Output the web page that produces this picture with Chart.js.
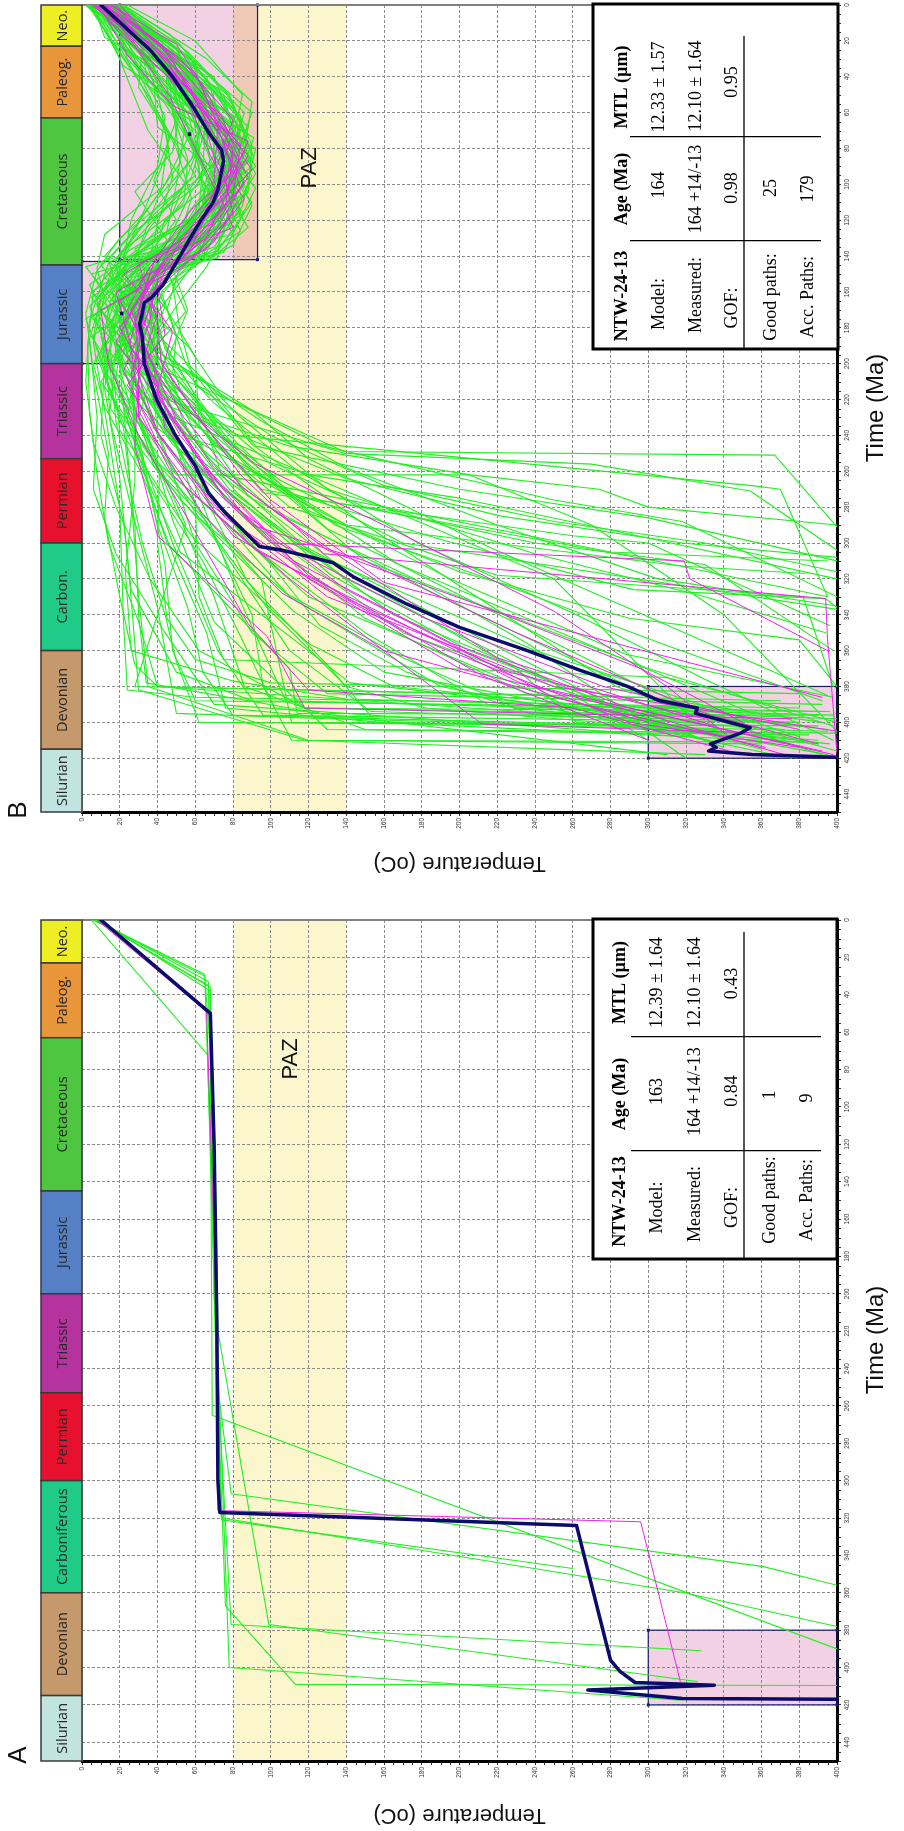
<!DOCTYPE html>
<html>
<head>
<meta charset="utf-8">
<title>NTW-24-13 thermal history models</title>
<script src="https://cdn.jsdelivr.net/npm/chart.js@4.4.1/dist/chart.umd.min.js"></script>
<style>
html,body{margin:0;padding:0;background:#ffffff;}
#page{position:relative;width:904px;height:1831px;overflow:hidden;background:#fff;}
#page canvas{position:absolute;left:0;display:block;}
</style>
</head>
<body>
<div id="page">
<canvas id="panelB" width="904" height="905" style="top:0px;width:904px;height:905px"></canvas>
<canvas id="panelA" width="904" height="926" style="top:905px;width:904px;height:926px"></canvas>
</div>
<script>
// ---------------- DATA ----------------
const tempTicks = [0,20,40,60,80,100,120,140,160,180,200,220,240,260,280,300,320,340,360,380,400];
const timeTicks = [0,20,40,60,80,100,120,140,160,180,200,220,240,260,280,300,320,340,360,380,400,420,440];

const periodNamesA = ["Neo.","Paleog.","Cretaceous","Jurassic","Triassic","Permian","Carboniferous","Devonian","Silurian"];
const periodNamesB = ["Neo.","Paleog.","Cretaceous","Jurassic","Triassic","Permian","Carbon.","Devonian","Silurian"];
const periodStarts = [0,23,63,145,200,253,300,360,415];
const periodEnds   = [23,63,145,200,253,300,360,415,450];
const periodColors = ["#EEEE24","#E9953A","#4FC63F","#5680C6","#B4339F","#E8112D","#1FCB87","#C5996C","#C2E4E1"];

const pazRange = [80,140];

// constraint boxes: [timeMin, timeMax, tempMin, tempMax]
const boxesA = [[380,420,300,400]];
const boxesB = [[0,142,20,93],[143,200,0,40],[380,420,300,400]];
// small markers [time, temp]
const markersB = [[72,57],[172,21]];

// table texts
const tableLabels = ["NTW-24-13","Model:","Measured:","GOF:","Good paths:","Acc. Paths:"];
const tableAgeA = ["Age (Ma)","163","164 +14/-13","0.84","1","9"];
const tableMtlA = ["MTL (\u00b5m)","12.39 \u00b1 1.64","12.10 \u00b1 1.64","0.43"];
const tableAgeB = ["Age (Ma)","164","164 +14/-13","0.98","25","179"];
const tableMtlB = ["MTL (\u00b5m)","12.33 \u00b1 1.57","12.10 \u00b1 1.64","0.95"];

// paths, flat lists of [time (Ma), temperature (C)] pairs
const bestA = [0,10, 50,68, 120,70, 220,71.5, 300,72, 317,73, 324,262, 344,267, 376,275, 396,280, 402,285, 408,293, 409.5,335, 412,268, 416.5,318, 417,400];
const goodA = [
  [0,8, 49,66, 200,71, 316,72, 322,296, 407.5,317]
];
const accA = [
  [0,6, 30,65, 70,68, 265,69, 390,400],
  [0,7, 35,67, 150,70, 250,72, 307,79, 346,361, 356,400],
  [0,9, 38,68, 200,70, 320,74, 360,319, 378,400],
  [0,5, 72,66.5, 200,70, 367,76, 409,113, 409.6,400],
  [0,8, 33,67, 250,72, 377,79, 391,328],
  [0,7, 36,68, 150,71, 220,72, 377,99, 407.5,326],
  [0,6, 29,65, 180,70, 400,78, 417.5,317],
  [0,11, 50,68, 300,72, 321,74, 347,260]
];

const bestB = [0,10, 25,36, 40,48, 57,59, 71,67, 81,74, 87,75, 103,72, 110,69.5, 120,63, 138,53, 156,43, 163,37, 166,33, 174,31.5, 178,30.5, 185,32, 200,33, 220,39.5, 239,49, 257,60, 272,67, 282,75, 302,94, 304,106, 308,122, 311,133, 319,144, 334,172, 347,200, 360,236, 371,264, 380,289, 388,306, 392,326, 395,325, 403,354, 406,349, 412,333, 414,336, 416,332, 418,355, 419.5,400];
const goodB = [
  [0,12, 20,40, 50,60, 80,80, 100,76, 128,60, 145,50, 172,28, 198,30, 240,52, 290,90, 310,150, 350,230, 395,330, 412,390],
  [0,8, 30,38, 60,70, 82,86, 108,70, 135,58, 160,38, 176,36, 200,28, 238,40, 280,70, 330,130, 380,250, 405,400],
  [0,15, 22,50, 52,68, 78,78, 96,88, 120,72, 140,55, 165,20, 185,32, 220,38, 260,60, 300,100, 310,319, 320,322, 360,395],
  [0,10, 26,32, 62,66, 86,82, 112,66, 138,48, 150,40, 180,20, 198,30, 230,30, 275,62, 320,110, 376,180, 401,212, 406,360],
  [0,5, 18,28, 44,54, 74,74, 102,84, 126,64, 142,44, 168,30, 196,40, 224,58, 262,84, 306,128, 331,394, 354,395, 417,400],
  [0,18, 36,50, 70,80, 90,74, 116,80, 140,60, 158,40, 184,44, 212,24, 248,46, 296,80, 352,175, 400,290, 414,380],
  [0,7, 24,36, 48,52, 70,76, 92,90, 122,62, 144,38, 162,32, 190,25, 218,46, 256,92, 290,160, 338,250, 380,310, 410,345],
  [0,12, 32,46, 58,58, 84,68, 110,82, 132,70, 146,52, 170,10, 200,14, 240,30, 290,58, 345,88, 382,120, 392,260, 418,350],
  [0,20, 16,34, 42,62, 68,72, 94,80, 114,58, 140,40, 156,30, 182,48, 214,40, 258,70, 310,140, 364,220, 402,335],
  [0,9, 28,24, 56,48, 76,88, 104,76, 128,58, 150,22, 172,40, 206,30, 246,28, 296,40, 352,98, 392,118, 398,376],
  [0,16, 38,60, 66,72, 98,70, 124,80, 139,46, 164,30, 188,18, 224,44, 270,72, 318,120, 374,212, 410,300],
  [0,6, 20,26, 50,46, 80,60, 106,72, 134,54, 144,30, 176,40, 200,42, 234,64, 276,100, 322,160, 358,290, 386,392],
  [0,11, 24,44, 56,62, 90,76, 118,64, 146,36, 170,24, 196,36, 232,50, 276,76, 326,140, 386,250, 414,362],
  [0,14, 30,52, 64,80, 88,72, 108,86, 136,66, 148,44, 174,34, 204,22, 244,40, 284,64, 328,106, 360,160, 400,300],
  [0,9, 20,30, 48,58, 84,80, 112,76, 138,56, 160,18, 190,26, 226,30, 262,48, 304,92, 344,168, 378,232, 418,398],
  [0,10, 28,44, 54,62, 78,84, 106,80, 130,60, 146,46, 170,30, 194,32, 228,46, 266,72, 310,112, 356,196, 392,290, 416,392],
  [0,13, 22,36, 46,56, 72,70, 98,86, 124,72, 142,52, 166,34, 188,30, 216,40, 254,62, 300,104, 342,182, 380,276, 404,380],
  [0,7, 18,22, 44,50, 70,66, 100,74, 126,52, 144,42, 170,26, 198,36, 230,54, 268,84, 304,130, 336,214, 370,296, 400,350],
  [0,17, 30,48, 62,74, 88,84, 116,72, 138,62, 150,36, 178,28, 202,38, 236,44, 274,76, 320,120, 370,200, 396,300, 418,372],
  [0,11, 26,40, 58,64, 84,88, 108,74, 136,50, 154,40, 182,32, 206,26, 242,42, 286,76, 332,142, 372,226, 398,330]
];
const accB = [
  [0,10, 15,28, 40,55, 72,88, 100,72, 128,52, 150,30, 172,12, 205,22, 245,48, 300,110, 360,240, 408,380],
  [0,15, 25,48, 55,80, 85,91, 110,62, 140,44, 160,38, 185,5, 220,28, 270,75, 340,165, 400,300, 418,395],
  [0,5, 20,22, 60,40, 95,60, 125,30, 142,18, 165,25, 195,40, 230,30, 290,55, 380,28, 388,370],
  [0,20, 30,58, 65,68, 80,92, 112,85, 135,70, 148,35, 180,30, 210,10, 255,40, 330,120, 392,260, 412,340],
  [0,8, 35,40, 50,75, 90,85, 118,58, 142,65, 158,20, 190,22, 240,70, 310,150, 370,300, 402,398],
  [0,3, 12,30, 45,35, 70,72, 105,88, 130,40, 152,12, 175,40, 200,35, 249,139, 251,367, 291,400],
  [0,12, 28,45, 58,60, 88,80, 102,92, 138,75, 145,40, 170,35, 198,15, 235,25, 300,45, 370,110, 395,114, 396,390],
  [0,18, 22,52, 48,70, 78,66, 95,90, 125,78, 143,25, 168,8, 192,30, 228,55, 270,95, 310,304, 330,395],
  [0,6, 18,12, 40,48, 75,58, 110,80, 140,60, 155,28, 185,10, 215,20, 262,50, 262,205, 290,270, 340,340, 405,400],
  [0,22, 40,62, 68,88, 92,76, 120,68, 141,30, 162,42, 195,28, 240,45, 285,85, 350,170, 410,330],
  [0,9, 30,30, 62,65, 85,74, 115,42, 135,25, 160,15, 180,38, 222,52, 265,105, 300,170, 337,400],
  [0,14, 20,38, 52,52, 80,84, 108,70, 132,62, 150,5, 178,22, 205,40, 240,80, 268,355, 270,370, 330,395],
  [0,4, 25,18, 70,35, 100,55, 130,20, 145,10, 170,30, 200,20, 260,25, 330,30, 380,35, 410,120, 412,360],
  [0,16, 33,55, 60,82, 98,66, 116,86, 140,48, 155,38, 175,2, 210,15, 250,35, 320,95, 400,111, 402,390],
  [0,11, 16,36, 44,62, 70,80, 90,92, 118,65, 145,52, 170,45, 200,55, 245,90, 290,150, 380,283, 418,392],
  [0,7, 38,28, 55,44, 82,60, 112,66, 138,38, 160,5, 188,35, 230,45, 278,60, 330,62, 365,75, 375,310, 400,400],
  [0,19, 26,40, 65,75, 92,84, 128,74, 142,56, 168,28, 190,18, 225,15, 260,40, 300,72, 360,110, 394,153, 398,300],
  [0,2, 10,15, 35,50, 64,55, 100,50, 126,45, 150,18, 180,45, 202,20, 250,32, 312,44, 360,48, 388,60, 392,330],
  [0,13, 42,50, 76,78, 104,58, 135,44, 149,22, 176,14, 200,50, 232,95, 258,140, 290,220, 320,305, 335,399],
  [0,24, 20,60, 50,85, 86,78, 121,80, 141,42, 171,55, 198,33, 245,70, 280,110, 318,220, 330,382, 380,398],
  [0,10, 28,42, 56,56, 96,72, 124,88, 140,70, 160,22, 182,30, 212,35, 270,78, 320,140, 375,245, 410,300],
  [0,6, 14,20, 30,24, 56,48, 88,52, 112,36, 140,12, 164,32, 196,8, 236,22, 290,28, 340,30, 378,34, 392,110, 394,395],
  [0,17, 24,44, 48,50, 74,91, 100,82, 131,66, 144,46, 166,25, 204,42, 258,88, 312,168, 355,265, 395,355],
  [0,12, 36,48, 60,60, 78,88, 106,78, 133,35, 158,12, 178,38, 218,60, 262,74, 305,280, 310,395],
  [0,8, 20,26, 46,45, 66,70, 92,70, 120,58, 143,44, 162,20, 193,15, 237,20, 296,58, 356,120, 380,165, 402,380],
  [0,21, 18,34, 40,70, 68,80, 96,62, 114,74, 141,58, 155,40, 190,35, 226,90, 253,120, 302,215, 385,395],
  [0,3, 22,32, 46,30, 72,46, 102,42, 128,12, 147,8, 180,16, 214,12, 264,20, 318,25, 382,30, 410,118, 418,330],
  [0,15, 32,60, 70,66, 94,88, 126,60, 142,35, 163,5, 192,25, 228,42, 268,60, 335,85, 388,108, 396,398],
  [0,9, 26,45, 52,68, 84,70, 110,90, 137,72, 151,30, 187,20, 210,65, 246,92, 270,200, 286,300, 310,400],
  [0,18, 24,36, 54,64, 90,68, 120,74, 139,28, 161,10, 186,6, 224,18, 276,52, 338,112, 372,160, 408,345],
  [0,5, 34,22, 58,58, 80,62, 104,46, 140,20, 146,2, 170,20, 200,25, 248,44, 300,60, 350,90, 384,130, 390,392],
  [0,13, 18,42, 44,46, 76,72, 99,78, 128,50, 148,28, 170,45, 196,60, 234,62, 274,88, 330,190, 390,310, 416,400],
  [0,20, 28,54, 62,84, 86,88, 108,64, 143,62, 150,18, 182,26, 206,12, 255,30, 305,52, 378,142, 400,330],
  [0,7, 16,18, 42,38, 68,40, 96,76, 116,62, 142,44, 168,35, 198,40, 242,58, 260,115, 320,250, 395,320],
  [0,11, 36,58, 66,62, 90,60, 128,80, 141,22, 174,28, 202,48, 241,75, 292,130, 350,240, 382,300, 412,372],
  [0,16, 21,30, 50,78, 84,90, 112,70, 136,28, 156,36, 184,12, 232,15, 280,26, 336,40, 395,50, 398,130, 405,395],
  [0,4, 30,36, 64,50, 98,38, 120,50, 143,32, 165,15, 194,10, 236,34, 287,48, 344,70, 404,130, 407,385],
  [0,22, 16,46, 38,66, 60,90, 84,82, 118,80, 139,52, 158,32, 189,44, 214,52, 266,96, 320,195, 362,288, 386,398],
  [0,10, 24,32, 44,40, 66,52, 98,70, 130,70, 144,50, 174,5, 203,30, 253,80, 290,140, 313,319, 317,383],
  [0,14, 32,44, 56,46, 80,80, 106,84, 134,46, 153,24, 179,32, 217,26, 257,38, 288,66, 340,90, 380,96, 410,111, 411,380],
  [0,12, 20,40, 48,62, 88,78, 116,84, 142,40, 160,30, 196,18, 226,40, 262,120, 275,200, 295,290, 320,400],
  [0,17, 40,66, 72,76, 104,80, 138,66, 148,36, 178,42, 200,30, 238,52, 272,110, 298,190, 326,292, 331,394, 336,400],
  [0,8, 18,34, 38,44, 62,80, 90,90, 122,55, 145,18, 166,22, 196,26, 228,28, 262,41, 300,40, 342,45, 365,60, 378,100, 384,380],
  [0,19, 30,50, 64,72, 100,86, 130,58, 141,34, 163,16, 188,24, 221,47, 250,139, 256,270, 271,354, 304,400],
  [0,6, 20,16, 36,38, 58,52, 82,48, 104,28, 131,45, 146,40, 170,28, 194,20, 222,28, 266,28, 316,23, 360,26, 377,80, 387,140, 392,340],
  [0,9, 24,38, 50,64, 76,70, 100,86, 124,68, 146,42, 166,26, 194,34, 230,50, 272,82, 318,132, 360,205, 398,300, 415,360],
  [0,13, 14,24, 40,60, 62,74, 86,80, 116,56, 142,50, 160,16, 186,28, 216,32, 254,58, 296,96, 342,150, 384,236, 404,395],
  [0,11, 30,34, 58,72, 94,92, 122,76, 144,30, 170,18, 200,10, 244,36, 286,62, 328,108, 364,170, 392,230, 398,400],
  [0,7, 26,40, 54,50, 88,64, 114,62, 140,52, 154,34, 184,28, 208,46, 252,66, 302,118, 346,198, 388,276, 420,320],
  [0,16, 28,46, 46,56, 70,84, 104,74, 126,84, 143,60, 166,44, 194,24, 236,38, 282,74, 312,100, 346,126, 372,172, 396,240, 400,380],
  [0,14, 22,42, 52,70, 80,76, 110,78, 140,56, 156,30, 190,12, 218,34, 250,52, 300,88, 350,150, 390,215, 412,396],
  [0,6, 16,26, 38,52, 66,66, 96,58, 124,36, 145,26, 172,8, 200,26, 240,28, 300,48, 360,72, 396,96, 400,370],
  [0,18, 34,62, 60,86, 82,80, 104,68, 128,70, 144,55, 168,38, 192,44, 222,70, 258,112, 300,178, 340,262, 376,330, 410,398],
  [0,10, 20,30, 50,40, 72,62, 100,62, 126,28, 142,14, 164,20, 190,30, 220,26, 272,46, 330,70, 380,86, 404,150, 406,400],
  [0,21, 26,56, 48,76, 78,90, 104,88, 130,62, 147,48, 170,56, 196,46, 226,66, 256,100, 280,150, 300,240, 312,330, 360,398],
  [0,4, 18,14, 42,30, 70,44, 96,48, 122,40, 141,36, 162,12, 188,6, 226,12, 280,20, 344,22, 382,24, 386,60, 392,380],
  [0,15, 28,38, 54,54, 82,76, 112,90, 134,80, 145,60, 162,34, 186,40, 210,38, 248,64, 284,104, 320,176, 356,236, 392,286, 414,340],
  [0,8, 24,28, 44,60, 74,80, 98,70, 120,44, 144,36, 176,16, 206,22, 240,56, 276,66, 322,88, 368,130, 400,156, 404,340],
  [0,12, 30,52, 56,64, 88,86, 116,70, 142,64, 156,48, 182,52, 212,60, 240,100, 268,160, 288,250, 300,330, 316,400],
  [0,19, 22,48, 46,64, 70,66, 94,80, 120,84, 139,70, 150,38, 176,22, 208,18, 246,30, 290,40, 336,56, 372,64, 396,80, 402,310],
  [0,7, 34,46, 60,48, 86,56, 110,54, 136,30, 156,4, 178,14, 204,36, 236,40, 280,96, 320,145, 370,230, 400,262, 412,390],
  [0,17, 20,30, 40,46, 64,84, 92,78, 118,60, 140,62, 160,42, 184,50, 206,48, 244,82, 282,120, 316,200, 342,290, 354,380, 380,400],
  [0,3, 26,20, 52,36, 80,50, 108,58, 134,50, 146,24, 168,4, 194,14, 232,18, 262,24, 300,32, 340,44, 366,50, 400,62, 402,358],
  [0,13, 24,50, 58,66, 90,64, 114,74, 141,72, 152,26, 180,36, 200,56, 230,84, 270,130, 306,240, 330,330, 350,394],
  [0,22, 30,66, 54,90, 82,86, 108,80, 130,74, 146,66, 168,50, 190,36, 216,56, 252,86, 290,134, 318,210, 358,312, 388,392],
  [0,9, 14,18, 36,44, 58,66, 86,58, 108,40, 142,28, 160,34, 186,16, 214,30, 250,44, 296,70, 336,98, 380,140, 392,182, 410,390],
  [0,11, 28,36, 46,68, 66,82, 92,86, 118,70, 144,40, 170,30, 200,28, 232,24, 264,36, 310,64, 352,84, 392,102, 418,310],
  [0,16, 38,52, 70,62, 100,80, 128,66, 140,44, 160,26, 184,40, 210,44, 246,74, 272,96, 296,260, 300,300, 346,396],
  [0,5, 22,36, 44,48, 68,54, 96,66, 124,62, 144,42, 168,18, 196,24, 238,46, 282,70, 330,110, 380,190, 396,266, 420,376],
  [0,20, 24,40, 50,72, 76,84, 106,66, 132,58, 146,30, 172,22, 200,6, 224,12, 262,32, 306,48, 350,66, 392,76, 400,158, 410,360],
  [0,12, 20,34, 48,54, 82,74, 112,64, 140,46, 160,36, 190,30, 224,46, 246,110, 262,206, 270,274, 280,300, 290,400],
  [0,8, 30,48, 62,72, 94,74, 126,56, 144,34, 168,44, 196,34, 230,60, 264,140, 285,222, 300,318, 308,400],
  [0,14, 18,22, 42,44, 64,58, 92,84, 120,58, 142,46, 164,28, 190,56, 218,74, 246,128, 276,250, 288,318, 330,400],
  [0,4, 20,18, 48,40, 80,46, 112,34, 140,22, 160,6, 190,3, 226,4, 262,8, 300,14, 344,30, 380,40, 386,300, 400,392],
  [0,9, 30,26, 60,56, 92,64, 126,42, 144,14, 176,4, 210,2, 244,6, 280,18, 320,36, 360,62, 392,118, 396,340],
  [0,2, 18,20, 40,34, 70,58, 100,44, 130,24, 148,8, 172,2, 204,6, 250,14, 286,12, 330,20, 368,28, 380,40, 404,372],
  [0,11, 26,30, 52,46, 84,60, 116,48, 138,20, 158,12, 186,4, 230,8, 270,6, 306,18, 350,44, 390,70, 408,320],
  [0,6, 14,22, 36,30, 62,44, 90,40, 120,26, 142,22, 164,8, 198,12, 240,10, 288,22, 326,26, 372,50, 388,90, 394,396]
];

// ---------------- RENDERING ----------------
const GREEN = '#22ee22', MAGENTA = '#ee22ee', NAVY = '#0b0b6b';

function toPoints(flat){
  const out = [];
  for (let i = 0; i < flat.length; i += 2) out.push({x: flat[i+1], y: flat[i]});
  return out;
}

function makeDatasets(best, good, acc, markers){
  const common = {type:'scatter', showLine:true, pointRadius:0, pointHoverRadius:0, tension:0, fill:false,
                  borderCapStyle:'round', borderJoinStyle:'round'};
  const ds = [];
  if (markers) {
    ds.push({type:'scatter', data: markers.map(m => ({x:m[1], y:m[0]})), showLine:false, pointStyle:'rect',
             pointRadius:2.5, backgroundColor:NAVY, borderColor:NAVY, borderWidth:0, order:-1});
  }
  ds.push(Object.assign({}, common, {data:toPoints(best), borderColor:NAVY, borderWidth:3.5, order:0}));
  good.forEach(p => ds.push(Object.assign({}, common, {data:toPoints(p), borderColor:MAGENTA, borderWidth:1, order:1})));
  acc.forEach(p => ds.push(Object.assign({}, common, {data:toPoints(p), borderColor:GREEN, borderWidth:1.1, order:2})));
  return ds;
}

function rtext(ctx, s, x, y, ang, font, color){
  ctx.save();
  ctx.translate(x, y);
  ctx.rotate(ang);
  ctx.font = font;
  ctx.fillStyle = color || '#000';
  ctx.textAlign = 'center';
  ctx.textBaseline = 'middle';
  ctx.fillText(s, 0, 0);
  ctx.restore();
}

function panelPlugin(P){
  return {
    id: 'panel' + P.letter,
    beforeDraw(chart){
      const {ctx, chartArea:ca, scales:{x, y}} = chart;
      ctx.save();
      ctx.fillStyle = '#ffffff';
      ctx.fillRect(0, 0, chart.width, chart.height);
      const p0 = x.getPixelForValue(pazRange[0]), p1 = x.getPixelForValue(pazRange[1]);
      ctx.fillStyle = '#FBF6CB';
      ctx.fillRect(p0, ca.top, p1 - p0, ca.bottom - ca.top);
      ctx.globalCompositeOperation = 'multiply';
      ctx.fillStyle = '#F3D1E4';
      P.boxes.forEach(b => {
        const X0 = x.getPixelForValue(b[2]), X1 = x.getPixelForValue(b[3]);
        const Y0 = y.getPixelForValue(b[0]), Y1 = y.getPixelForValue(b[1]);
        ctx.fillRect(X0, Y0, X1 - X0, Y1 - Y0);
      });
      ctx.restore();
    },
    beforeDatasetsDraw(chart){
      const {ctx, chartArea:ca, scales:{x, y}} = chart;
      ctx.save();
      ctx.strokeStyle = '#1b1b72';
      ctx.lineWidth = 1.2;
      P.boxes.forEach(b => {
        const X0 = x.getPixelForValue(b[2]), X1 = x.getPixelForValue(b[3]);
        const Y0 = y.getPixelForValue(b[0]), Y1 = y.getPixelForValue(b[1]);
        ctx.strokeRect(X0, Y0, X1 - X0, Y1 - Y0);
        ctx.fillStyle = '#1b1b72';
        [[X0,Y0],[X1,Y0],[X0,Y1],[X1,Y1]].forEach(c => ctx.fillRect(c[0]-1.5, c[1]-1.5, 3, 3));
      });
      ctx.strokeStyle = '#808080';
      ctx.lineWidth = 2;
      ctx.beginPath(); ctx.moveTo(ca.left, ca.top); ctx.lineTo(ca.right, ca.top); ctx.stroke();
      ctx.strokeStyle = '#b4b4b4';
      ctx.beginPath(); ctx.moveTo(ca.left, ca.top); ctx.lineTo(ca.left, ca.bottom); ctx.stroke();
      ctx.restore();
    },
    afterDraw(chart){
      const {ctx, chartArea:ca, scales:{x, y}} = chart;
      ctx.save();
      const colL = 41, colR = ca.left;
      for (let i = 0; i < periodStarts.length; i++) {
        const y0 = y.getPixelForValue(periodStarts[i]), y1 = y.getPixelForValue(periodEnds[i]);
        ctx.fillStyle = periodColors[i];
        ctx.fillRect(colL, y0, colR - colL, y1 - y0);
        ctx.strokeStyle = '#3a3a3a';
        ctx.lineWidth = 1.5;
        ctx.strokeRect(colL, y0, colR - colL, y1 - y0);
        rtext(ctx, P.periodNames[i], (colL + colR) / 2 + 1, (y0 + y1) / 2, -Math.PI/2, '14.5px "Open Sans"', '#262626');
      }
      ctx.strokeStyle = '#333';
      ctx.lineWidth = 1;
      ctx.beginPath();
      for (let v = 0; v <= 400; v += 5) {
        if (v % 20 === 0) continue;
        const px = Math.round(x.getPixelForValue(v)) + 0.5;
        ctx.moveTo(px, ca.bottom + 1.5); ctx.lineTo(px, ca.bottom + 4);
      }
      for (let v = 0; v <= 450; v += 5) {
        if (v % 20 === 0) continue;
        const py = Math.round(y.getPixelForValue(v)) + 0.5;
        ctx.moveTo(ca.right + 1.5, py); ctx.lineTo(ca.right + 4, py);
      }
      ctx.stroke();
      timeTicks.forEach(t => {
        rtext(ctx, String(t), ca.right + 10, y.getPixelForValue(t), -Math.PI/2, '6.5px "Liberation Sans"', '#333');
      });
      rtext(ctx, 'Time (Ma)', 876, P.timeTitleY, -Math.PI/2, '24px "Liberation Sans"', '#111');
      rtext(ctx, 'Temperature (oC)', (ca.left + ca.right) / 2, P.tempTitleY, Math.PI, '22px "Liberation Sans"', '#111');
      rtext(ctx, P.letter, 19, P.letterY, -Math.PI/2, '26px "Liberation Sans"', '#111');
      rtext(ctx, 'PAZ', P.pazX, P.pazY, -Math.PI/2, '22px "Liberation Sans"', '#111');
      const T = P.table;
      ctx.fillStyle = '#ffffff';
      ctx.fillRect(T.box[0], T.box[1], T.box[2] - T.box[0], T.box[3] - T.box[1]);
      ctx.strokeStyle = '#000';
      ctx.lineWidth = 3;
      ctx.strokeRect(T.box[0], T.box[1], T.box[2] - T.box[0], T.box[3] - T.box[1]);
      ctx.lineWidth = 1.3;
      ctx.beginPath();
      T.hLines.forEach(hy => { ctx.moveTo(T.hx[0], hy); ctx.lineTo(T.hx[1], hy); });
      ctx.moveTo(T.vLine[0], T.vLine[1]); ctx.lineTo(T.vLine[0], T.vLine[2]);
      ctx.stroke();
      for (let i = 0; i < tableLabels.length; i++) {
        const f = i === 0 ? 'bold 18px "Liberation Serif"' : '18px "Liberation Serif"';
        rtext(ctx, tableLabels[i], T.cols[i], T.labY[i], -Math.PI/2, f, '#000');
        rtext(ctx, P.ages[i], T.cols[i], T.ageY[i], -Math.PI/2, f, '#000');
        if (i < P.mtls.length) rtext(ctx, P.mtls[i], T.cols[i], T.mtlY[i], -Math.PI/2, f, '#000');
      }
      ctx.restore();
    }
  };
}

function makeChart(id, P){
  const gridOpts = {color:'#8c8c8c', lineWidth:1, drawTicks:true, tickLength:4, tickColor:'#333', tickWidth:1};
  const borderOpts = {display:true, color:'#000', width:3, dash:[3,2]};
  return new Chart(document.getElementById(id), {
    type: 'scatter',
    data: {datasets: P.datasets},
    options: {
      responsive: false,
      animation: false,
      events: [],
      layout: {padding: {top: P.top, left: 82, right: 0, bottom: 0}},
      plugins: {legend: {display: false}, tooltip: {enabled: false}, title: {display: false}},
      scales: {
        x: {
          type: 'linear', position: 'bottom', min: 0, max: 400,
          afterBuildTicks: s => { s.ticks = tempTicks.map(v => ({value: v})); },
          afterFit: s => { s.height = P.xh; },
          ticks: {autoSkip: false, minRotation: 90, maxRotation: 90, padding: 2, color: '#333',
                  font: {size: 6.5, family: 'Liberation Sans'}},
          grid: gridOpts,
          border: borderOpts
        },
        y: {
          type: 'linear', position: 'right', reverse: true, min: 0, max: 450,
          afterBuildTicks: s => { s.ticks = timeTicks.map(v => ({value: v})); },
          afterFit: s => { s.width = 67; },
          ticks: {display: false},
          grid: gridOpts,
          border: borderOpts
        }
      }
    },
    plugins: [panelPlugin(P)]
  });
}

makeChart('panelB', {
  letter: 'B', top: 5, xh: 93,
  datasets: makeDatasets(bestB, goodB, accB, markersB),
  boxes: boxesB, periodNames: periodNamesB,
  timeTitleY: 408, tempTitleY: 863, letterY: 810, pazX: 310, pazY: 168,
  ages: tableAgeB, mtls: tableMtlB,
  table: {box:[593,4,838,349], hLines:[136.7,240.7], hx:[630,821], vLine:[744,36,348],
          cols:[622,659,696,732,771,808], labY:[296,304,295,308,297,297],
          ageY:[189,185,189,188,188,189], mtlY:[87,87,86,82]}
});

makeChart('panelA', {
  letter: 'A', top: 15, xh: 70,
  datasets: makeDatasets(bestA, goodA, accA, null),
  boxes: boxesA, periodNames: periodNamesA,
  timeTitleY: 435, tempTitleY: 910, letterY: 850, pazX: 290.5, pazY: 154,
  ages: tableAgeA, mtls: tableMtlA,
  table: {box:[593,14,837,354], hLines:[131.7,245.7], hx:[631,821], vLine:[744,27,353],
          cols:[620,657,695,732,770,807], labY:[296.5,302.5,299,302.5,295,295],
          ageY:[189,186.5,186.5,186,190,193], mtlY:[77.5,77.5,77.5,78.5]}
});
</script>
</body>
</html>
